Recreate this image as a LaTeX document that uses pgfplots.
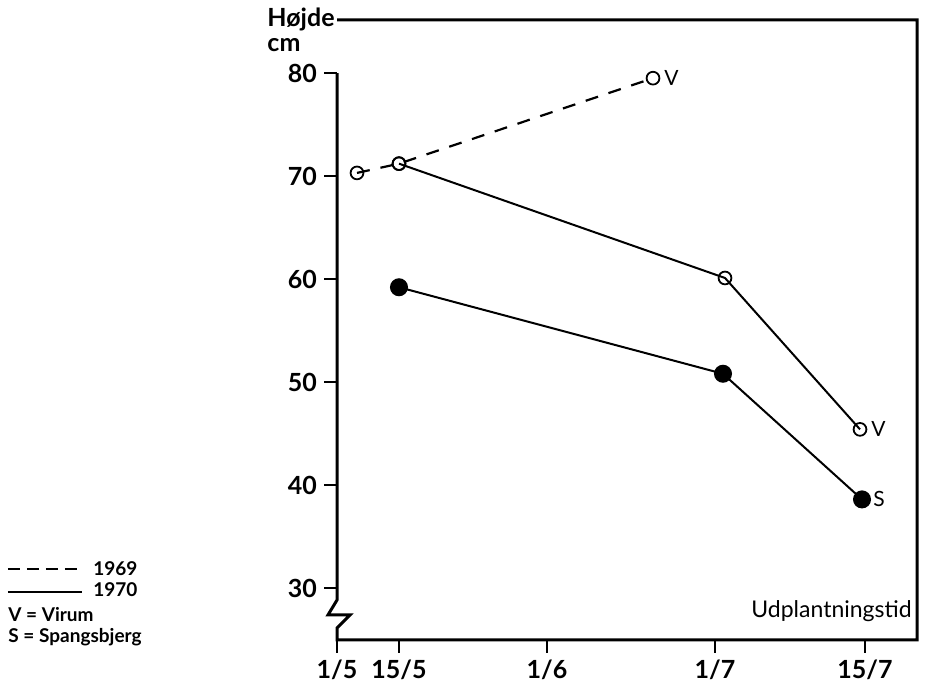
\documentclass[border=0pt]{standalone}
\usepackage{fontspec}
\setmainfont{Lato}
\usepackage{pgfplots}
\pgfplotsset{compat=1.18}
\begin{document}
\begin{tikzpicture}
\useasboundingbox (-168.5pt,-24.5pt) rectangle (294pt,320pt);
\begin{axis}[
  at={(0,0)}, anchor=south west,
  scale only axis, width=290pt, height=310pt,
  xmin=0, xmax=580, ymin=24.95, ymax=85.15,
  axis line style={draw=none},
  xtick={0,62,210,378,528},
  xticklabels={1/5,15/5,1/6,1/7,15/7},
  ytick={30,40,50,60,70,80},
  xtick pos=bottom, ytick pos=left,
  tick align=outside,
  major tick length=6.5pt,
  tick style={line width=1.3pt, black},
  ticklabel style={font=\fontsize{12.5}{14}\selectfont\bfseries},
  /pgf/number format/assume math mode=true,
  clip=false,
]
% 1969 Virum
\addplot[black, line width=1.1pt, dash pattern=on 6.5pt off 5.5pt, mark=o, mark size=3.2pt, mark options={solid, line width=0.9pt}] coordinates {(20,70.3) (62,71.2) (316,79.5)};
% 1970 Virum
\addplot[black, line width=1pt, mark=o, mark size=3.2pt, mark options={line width=0.9pt}] coordinates {(62,71.2) (388,60.1) (523,45.4)};
% 1970 Spangsbjerg
\addplot[black, line width=1pt, mark=*, mark size=4pt] coordinates {(62,59.2) (386,50.8) (525,38.6)};

\node[anchor=west, inner sep=0, font=\fontsize{10.5}{12}\selectfont] at ([xshift=5.5pt]axis cs:316,79.5) {V};
\node[anchor=west, inner sep=0, font=\fontsize{10.5}{12}\selectfont] at ([xshift=5.5pt]axis cs:523,45.4) {V};
\node[anchor=west, inner sep=0, font=\fontsize{10.5}{12}\selectfont] at ([xshift=5.5pt]axis cs:525,38.6) {S};

\node[anchor=base east, inner sep=0, font=\fontsize{11.5}{13}\selectfont] at ([xshift=-2.5pt,yshift=11pt]rel axis cs:1,0) {Udplantningstid};

\draw[line width=1.5pt, line join=miter] (axis cs:0,80) -- (axis cs:0,28.83) -- (axis cs:-9,27.38) -- (axis cs:13,27.38) -- (axis cs:0,26.12) -- (axis cs:0,24.95) -- (axis cs:580,24.95) -- (axis cs:580,85.15) -- (axis cs:0,85.15);
\end{axis}

\node[anchor=base east, inner sep=0, font=\fontsize{12.5}{14}\selectfont\bfseries] (h) at (-1pt,306.5pt) {Højde};
\node[anchor=base west, inner sep=0, font=\fontsize{12.5}{14}\selectfont\bfseries] at ([yshift=-12.5pt]h.base west) {cm};

\draw[line width=0.9pt, dash pattern=on 6pt off 3.5pt] (-164.5pt,35.5pt) -- (-127.5pt,35.5pt);
\node[anchor=base west, inner sep=0, font=\fontsize{9.5}{11}\selectfont\bfseries] at (-122pt,32pt) {1969};
\draw[line width=0.9pt] (-164.5pt,24pt) -- (-127.5pt,24pt);
\node[anchor=base west, inner sep=0, font=\fontsize{9.5}{11}\selectfont\bfseries] at (-122pt,21.5pt) {1970};
\node[anchor=base west, inner sep=0, font=\fontsize{9.5}{11}\selectfont\bfseries] at (-164.5pt,9pt) {V = Virum};
\node[anchor=base west, inner sep=0, font=\fontsize{9.5}{11}\selectfont\bfseries] at (-164.5pt,-1.5pt) {S = Spangsbjerg};
\end{tikzpicture}
\end{document}
